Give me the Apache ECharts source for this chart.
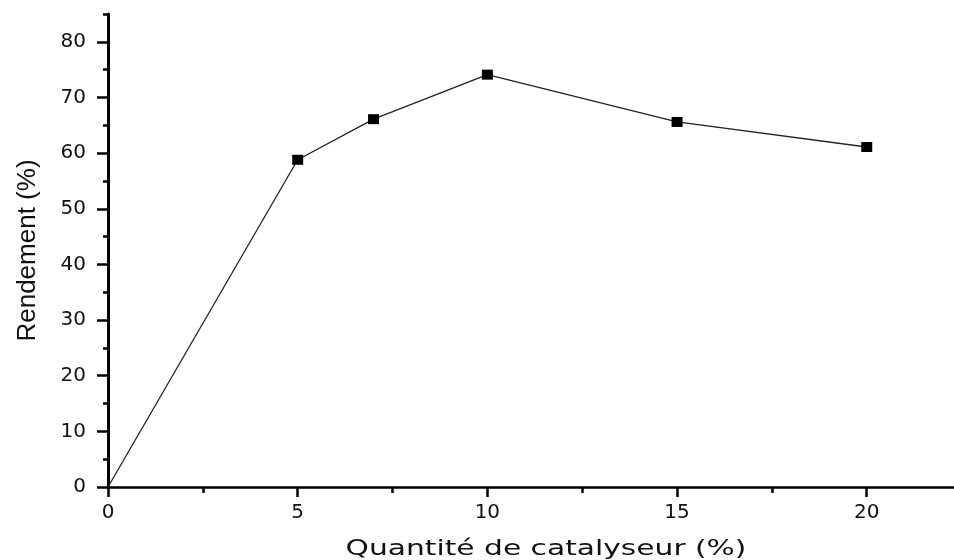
<!DOCTYPE html>
<html>
<head>
<meta charset="utf-8">
<script src="https://cdn.jsdelivr.net/npm/echarts@6/dist/echarts.min.js"></script>
<style>
  html, body { margin: 0; padding: 0; background: #fff; }
  #chart { width: 954px; height: 560px; }
</style>
</head>
<body>
<div id="chart"></div>
<script>
// Yield versus catalyst loading
const catalystPct = [0, 5, 7, 10, 15, 20];
const yieldPct = [0, 58.8, 66.1, 74.1, 65.6, 61.1];

// Tick positions (major ticks carry labels)
const xMajorTicks = [0, 5, 10, 15, 20];
const xMinorTicks = [2.5, 7.5, 12.5, 17.5];
const yMajorTicks = [0, 10, 20, 30, 40, 50, 60, 70, 80];
const yMinorTicks = [5, 15, 25, 35, 45, 55, 65, 75, 85];

const xTitle = 'Quantité de catalyseur (%)';
const yTitle = 'Rendement (%)';

const X_MAX = 22.3;
const Y_MAX = 85;
const INK = '#000';
const labelFont = 'DejaVu Sans';

const plotRect = { left: 108, right: 0, top: 14, bottom: 73 };

const chart = echarts.init(document.getElementById('chart'));

chart.setOption({
  animation: false,
  backgroundColor: '#fff',
  grid: [
    Object.assign({ containLabel: false }, plotRect),
    Object.assign({ containLabel: false }, plotRect)
  ],
  xAxis: [
    {
      type: 'value', gridIndex: 0, min: 0, max: X_MAX,
      axisLine: { show: true, onZero: false, lineStyle: { color: INK, width: 2.5 } },
      axisTick: { show: true, customValues: xMajorTicks, length: 10, lineStyle: { color: INK, width: 2.5 } },
      axisLabel: { customValues: xMajorTicks, margin: 16, color: '#111', fontFamily: labelFont, fontSize: 20 },
      splitLine: { show: false }
    },
    {
      type: 'value', gridIndex: 1, min: 0, max: X_MAX,
      axisLine: { show: false },
      axisTick: { show: true, customValues: xMinorTicks, length: 6, lineStyle: { color: INK, width: 2.5 } },
      axisLabel: { show: false },
      splitLine: { show: false }
    }
  ],
  yAxis: [
    {
      type: 'value', gridIndex: 0, min: 0, max: Y_MAX,
      name: yTitle, nameLocation: 'middle', nameRotate: 90, nameGap: 67,
      nameTextStyle: { color: '#111', fontFamily: 'Liberation Sans', fontSize: 26 },
      axisLine: { show: true, onZero: false, lineStyle: { color: INK, width: 3 } },
      axisTick: { show: true, customValues: yMajorTicks, length: 11, lineStyle: { color: INK, width: 2.5 } },
      axisLabel: { customValues: yMajorTicks, margin: 22, color: '#111', fontFamily: labelFont, fontSize: 20 },
      splitLine: { show: false }
    },
    {
      type: 'value', gridIndex: 1, min: 0, max: Y_MAX,
      axisLine: { show: false },
      axisTick: { show: true, customValues: yMinorTicks, length: 5, lineStyle: { color: INK, width: 2.5 } },
      axisLabel: { show: false },
      splitLine: { show: false }
    }
  ],
  graphic: [
    {
      type: 'text',
      x: 546, y: 549,
      scaleX: 1.35,
      silent: true,
      style: {
        text: xTitle,
        align: 'center',
        verticalAlign: 'middle',
        fontFamily: labelFont,
        fontSize: 22,
        fill: '#111'
      }
    }
  ],
  series: [
    {
      type: 'line',
      xAxisIndex: 0, yAxisIndex: 0,
      data: catalystPct.map((c, i) => ({
        value: [c, yieldPct[i]],
        symbol: i === 0 ? 'none' : 'rect'
      })),
      symbolSize: [11, 10],
      showAllSymbol: true,
      lineStyle: { color: '#222', width: 1.3 },
      itemStyle: { color: INK, borderWidth: 0 },
      z: 3
    }
  ]
});
</script>
</body>
</html>
